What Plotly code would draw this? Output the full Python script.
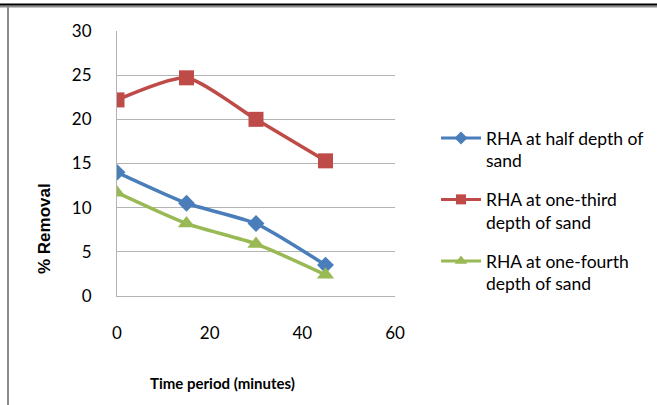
import plotly.graph_objects as go

# Removal efficiency over time for rice husk ash (RHA) layers in sand
time_min = [0, 15, 30, 45]
half_depth = [14.0, 10.5, 8.2, 3.5]
one_third_depth = [22.2, 24.7, 20.0, 15.3]
one_fourth_depth = [11.7, 8.2, 5.9, 2.4]

series_names = [
    "RHA at half depth of<br>sand",
    "RHA at one-third<br>depth of sand",
    "RHA at one-fourth<br>depth of sand",
]
x_ticks = [0, 20, 40, 60]
y_ticks = [0, 5, 10, 15, 20, 25, 30]

FONT = "Lato"
W, H = 657, 405
L, R, T, B = 117, 262, 31, 109
pw, ph = W - L - R, H - T - B

fig = go.Figure()
styles = [
    (half_depth, "#4A7EBB", "diamond", 13, 10),
    (one_third_depth, "#BE4B48", "square", 15, 10),
    (one_fourth_depth, "#98B954", "triangle-up", 15, 11),
]
for i, (name, (vals, color, sym, size, leg_size)) in enumerate(zip(series_names, styles)):
    fig.add_trace(go.Scatter(
        x=time_min, y=vals, name=name, mode="lines+markers", showlegend=False,
        legendgroup=f"g{i}",
        line=dict(color=color, width=3.5, shape="spline", smoothing=0.6),
        marker=dict(symbol=sym, size=size, color=color, line=dict(width=0)),
    ))
    # legend entry with a smaller marker than the plotted points
    fig.add_trace(go.Scatter(
        x=[None], y=[None], name=name, mode="lines+markers",
        legendgroup=f"g{i}",
        line=dict(color=color, width=3),
        marker=dict(symbol=sym, size=leg_size, color=color, line=dict(width=0)),
    ))

def px_x(px):
    return (px - L) / pw

def px_y(py):
    return (H - B - py) / ph

# page frame: dark rule at top, grey rule on the left
fig.add_shape(type="line", xref="paper", yref="paper",
              x0=px_x(0), x1=px_x(W), y0=px_y(6.5), y1=px_y(6.5),
              line=dict(color="#8c8c8c", width=2))
fig.add_shape(type="line", xref="paper", yref="paper",
              x0=px_x(0), x1=px_x(W), y0=px_y(4.5), y1=px_y(4.5),
              line=dict(color="#000000", width=2))
fig.add_shape(type="line", xref="paper", yref="paper",
              x0=px_x(8), x1=px_x(8), y0=px_y(6), y1=px_y(H),
              line=dict(color="#8c8c8c", width=2))

fig.add_annotation(text="<b>Time period (minutes)</b>", xref="paper", yref="paper",
                   x=px_x(222), y=px_y(383), xanchor="center", yanchor="middle",
                   showarrow=False,
                   font=dict(family=FONT, size=15, color="#000000"))
fig.add_annotation(text="<b>% Removal</b>", xref="paper", yref="paper",
                   x=px_x(44), y=px_y(229), xanchor="center", yanchor="middle",
                   showarrow=False, textangle=-90,
                   font=dict(family="Liberation Sans", size=17, color="#000000"))

fig.update_layout(
    width=W, height=H,
    margin=dict(l=L, r=R, t=T, b=B, pad=0, autoexpand=False),
    paper_bgcolor="white", plot_bgcolor="white",
    font=dict(family=FONT, size=17, color="#000000"),
    showlegend=True,
    legend=dict(
        x=px_x(436), y=px_y(120), xanchor="left", yanchor="top",
        font=dict(family=FONT, size=17.5, color="#000000"),
        tracegroupgap=13, itemwidth=40, valign="top",
        bgcolor="rgba(0,0,0,0)",
    ),
    xaxis=dict(
        range=[0, 60], tickvals=x_ticks, showgrid=False, zeroline=False,
        showline=True, linecolor="#b3b3b3", linewidth=1,
        ticks="", ticklabelstandoff=22,
        tickfont=dict(family=FONT, size=17),
    ),
    yaxis=dict(
        range=[0, 30], tickvals=y_ticks, showgrid=True, gridcolor="#b3b3b3",
        gridwidth=1, zeroline=False, showline=True, linecolor="#b3b3b3",
        linewidth=1, ticks="", ticklabelstandoff=21,
        tickfont=dict(family=FONT, size=17),
    ),
)

fig.write_html("out.html")
